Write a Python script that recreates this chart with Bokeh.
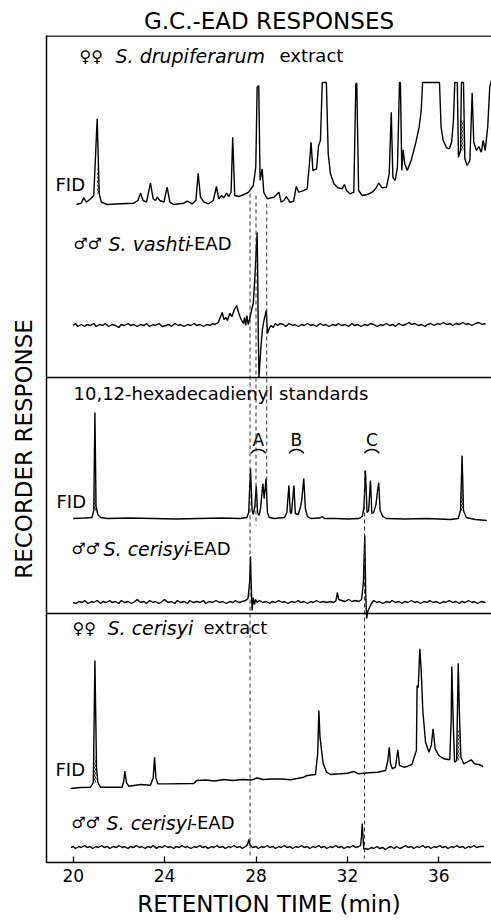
import numpy as np
from bokeh.plotting import figure
from bokeh.models import Range1d, Span, FixedTicker, Title
from bokeh.core.properties import value
from bokeh.embed import file_html
from bokeh.resources import INLINE

# ---------------- data (retention time in min, response in arbitrary units) -------------
x_ticks = [20, 24, 28, 32, 36]

# FID of female S. drupiferarum extract
fid1 = [(20.14, 0), (20.35, 1.3), (20.46, 6.7), (20.58, 2.3), (20.76, 5.7), (20.9, 9), (21.05, 85.7),
        (21.14, 10.7), (21.23, 2.3), (21.49, 0), (22.07, 0.7), (22.65, 1.3), (22.83, 4), (22.95, 11.3),
        (23.06, 4), (23.21, 2.3), (23.38, 21.3), (23.5, 5.7), (23.6, 4), (23.68, 7.3), (23.79, 4),
        (23.97, 2.3), (24.11, 17.3), (24.23, 2.3), (24.4, 0), (24.84, 1.3), (24.99, 3.3), (25.21, 0.7),
        (25.37, 4), (25.47, 31.3), (25.57, 7.3), (25.72, 2.3), (25.93, 0.7), (26.13, 4), (26.27, 18),
        (26.37, 5.7), (26.49, 9), (26.59, 6.7), (26.71, 11.3), (26.81, 8), (26.91, 12.3), (26.98, 67.3),
        (27.07, 9), (27.25, 8), (27.47, 10), (27.68, 12.3), (27.88, 19), (27.99, 37.3), (28.05, 117.3),
        (28.12, 119), (28.18, 24), (28.27, 35.7), (28.34, 12.3), (28.49, 5.7), (28.78, 7.3), (29.0, 12.3),
        (29.1, 2.3), (29.22, 4), (29.33, 8), (29.48, 2.3), (29.65, 3.3), (29.76, 18), (29.87, 12.3),
        (30.02, 13.3), (30.24, 15.7), (30.35, 44), (30.41, 62.3), (30.49, 34), (30.65, 35.7), (30.74, 59),
        (30.82, 64), (30.9, 122), (31.08, 122), (31.16, 50.7), (31.26, 30.7), (31.41, 20.7), (31.58, 16.7),
        (31.77, 15.7), (31.87, 20), (31.96, 14), (32.11, 10.7), (32.28, 12.3), (32.37, 120.7),
        (32.41, 121.3), (32.49, 14), (32.65, 9), (32.87, 10), (33.09, 12.3), (33.23, 15.7), (33.37, 21.3),
        (33.52, 16.7), (33.71, 17.3), (33.83, 30.7), (33.92, 92.3), (33.99, 27.3), (34.09, 24),
        (34.19, 37.3), (34.28, 122), (34.32, 122), (34.38, 34), (34.44, 54.7), (34.51, 40.7), (34.62, 34),
        (34.79, 44), (34.98, 60.7), (35.14, 77.3), (35.23, 94), (35.29, 122), (36.03, 122), (36.1, 77.3),
        (36.19, 64), (36.34, 56.7), (36.46, 55.7), (36.56, 62.3), (36.64, 84), (36.7, 122), (36.81, 122),
        (36.86, 47.3), (36.95, 54), (36.99, 122), (37.08, 122), (37.14, 45.7), (37.24, 39), (37.36, 44),
        (37.46, 111.7), (37.53, 62.3), (37.65, 54), (37.75, 58), (37.86, 52.3), (37.94, 64), (38.03, 54),
        (38.14, 77.3), (38.23, 117.3), (38.3, 124)]

# EAD of male S. vashti antenna
ead1 = [(20.0, 0), (20.1, 2), (20.2, -1), (20.35, 1), (20.5, -1), (20.6, 1), (20.75, 0), (20.9, 2),
        (21.0, -1), (21.15, 1), (21.3, 0), (21.4, 2), (21.55, -1), (21.7, 1), (21.85, 0), (22.0, -2),
        (22.1, 1), (22.25, 0), (22.4, 2), (22.5, 0), (22.65, 1), (22.8, -1), (22.95, 1), (23.1, 0),
        (23.2, 2), (23.35, -1), (23.5, 1), (23.6, 0), (23.75, 2), (23.9, -1), (24.05, 0), (24.2, 1),
        (24.3, -1), (24.45, 2), (24.6, 0), (24.7, 1), (24.85, -1), (25.0, 1), (25.15, 0), (25.3, 2),
        (25.4, 0), (25.55, 1), (25.7, -1), (25.85, 1), (26.0, 0), (26.1, 2), (26.2, 1), (26.35, 3),
        (26.45, 9), (26.52, 13), (26.6, 6), (26.68, 8), (26.75, 5), (26.85, 12), (26.95, 9), (27.05, 16),
        (27.15, 20), (27.25, 12), (27.35, 6), (27.45, 2), (27.5, 8), (27.55, 0), (27.6, 10), (27.66, 1),
        (27.72, 6), (27.8, 15), (27.88, 22), (27.95, 48), (28.02, 80), (28.05, 93), (28.08, 40),
        (28.1, -10), (28.13, -52), (28.17, -38), (28.22, -20), (28.28, -4), (28.35, 5), (28.45, 15),
        (28.5, -8), (28.58, -3), (28.65, 0), (28.75, -2), (28.85, 2), (28.95, 0), (29.05, 2), (29.2, 1),
        (29.3, -1), (29.45, 2), (29.6, 0), (29.7, 1), (29.85, -1), (30.0, 1), (30.1, 0), (30.25, 2),
        (30.4, 0), (30.5, 1), (30.65, -1), (30.8, 2), (30.95, 0), (31.05, 1), (31.2, -1), (31.35, 1),
        (31.5, 0), (31.6, 2), (31.75, 0), (31.9, 1), (32.05, -1), (32.2, 2), (32.3, 0), (32.45, 1),
        (32.6, -1), (32.75, 1), (32.9, 0), (33.0, 2), (33.15, 1), (33.3, -1), (33.45, 1), (33.55, 0),
        (33.7, 2), (33.85, 0), (34.0, 1), (34.1, -1), (34.25, 2), (34.4, 0), (34.55, 1), (34.7, 3),
        (34.8, 1), (34.95, 2), (35.1, 0), (35.25, 1), (35.4, -1), (35.5, 1), (35.65, 2), (35.8, 0),
        (35.95, 2), (36.05, 1), (36.2, 3), (36.35, 1), (36.5, 2), (36.6, 0), (36.75, 2), (36.9, 1),
        (37.05, 3), (37.2, 1), (37.3, 2), (37.45, 0), (37.6, 2), (37.75, 3), (37.9, 1), (38.05, 2)]

# FID of 10,12-hexadecadienyl standards
fid2 = [(20.0, 0), (20.5, 0.5), (20.82, 1), (20.9, 8), (20.95, 106), (21.0, 12), (21.08, 4), (21.2, 1),
        (21.5, 0), (22.5, 0.5), (23.5, 0), (24.5, -0.5), (25.5, 0), (26.5, 0.5), (27.3, 0), (27.6, 1),
        (27.68, 6), (27.76, 50), (27.83, 8), (27.88, 4), (27.95, 12), (28.01, 33), (28.07, 6), (28.13, 3),
        (28.2, 10), (28.3, 35), (28.36, 20), (28.44, 40), (28.5, 6), (28.58, 1), (28.8, 0), (29.25, 1),
        (29.35, 6), (29.44, 33), (29.5, 6), (29.55, 5), (29.66, 33), (29.72, 5), (29.85, 4), (29.95, 12),
        (30.0, 18), (30.09, 40), (30.16, 10), (30.25, 2), (30.4, 0), (30.8, 0.5), (30.9, 2), (31.0, 0),
        (31.5, 0), (32.0, -0.5), (32.5, 0), (32.65, 2), (32.72, 10), (32.79, 48), (32.86, 6), (32.93, 8),
        (33.01, 38), (33.07, 5), (33.15, 6), (33.25, 14), (33.32, 28), (33.37, 36), (33.43, 8), (33.55, 2),
        (33.7, 0), (34.5, -0.5), (35.5, 0), (36.5, -1), (36.85, 0), (36.95, 8), (37.02, 63), (37.08, 8),
        (37.2, 1), (37.6, -1), (38.1, -2)]

# EAD of male S. cerisyi antenna to the standards
ead2 = [(20.0, 0), (20.12, -1), (20.25, 1), (20.4, 0), (20.5, 2), (20.65, -1), (20.8, 1), (20.9, 0),
        (21.05, 2), (21.2, -1), (21.3, 1), (21.45, 0), (21.6, 2), (21.7, 0), (21.85, 1), (22.0, -1),
        (22.1, 2), (22.25, 0), (22.4, 1), (22.55, -1), (22.7, 1), (22.8, 3), (22.95, 0), (23.1, 1),
        (23.2, -1), (23.35, 2), (23.5, 0), (23.6, 1), (23.75, -1), (23.9, 1), (24.0, 3), (24.15, 0),
        (24.3, 1), (24.45, -1), (24.55, 2), (24.7, 0), (24.85, 1), (25.0, -1), (25.1, 2), (25.25, 0),
        (25.4, 1), (25.55, 0), (25.7, 2), (25.8, -1), (25.95, 1), (26.1, 0), (26.25, 2), (26.4, 0),
        (26.55, 1), (26.7, -1), (26.85, 1), (27.0, 0), (27.1, 2), (27.25, 0), (27.4, 1), (27.55, 2),
        (27.65, 4), (27.72, 20), (27.76, 46), (27.8, 10), (27.83, -8), (27.88, 5), (27.93, -2), (27.98, 3),
        (28.05, 0), (28.15, 2), (28.3, 0), (28.45, 1), (28.6, -1), (28.7, 1), (28.85, 0), (29.0, 2),
        (29.15, 0), (29.25, 1), (29.4, -1), (29.55, 1), (29.7, 0), (29.85, 2), (29.95, 0), (30.1, 1),
        (30.25, -1), (30.4, 1), (30.5, 0), (30.65, 2), (30.8, 0), (30.95, 1), (31.1, 0), (31.25, 1),
        (31.4, 0), (31.5, 2), (31.56, 10), (31.62, 3), (31.75, 2), (31.9, 1), (32.05, 3), (32.2, 1),
        (32.35, 2), (32.5, 1), (32.62, 3), (32.7, 20), (32.76, 67), (32.8, 10), (32.84, -16), (32.9, -8),
        (32.97, -5), (33.05, -1), (33.15, 2), (33.3, 0), (33.4, 1), (33.55, -1), (33.7, 1), (33.85, 0),
        (33.95, 2), (34.1, 0), (34.25, 1), (34.4, -1), (34.5, 1), (34.65, 0), (34.8, 2), (34.95, 0),
        (35.05, 1), (35.2, -1), (35.35, 1), (35.5, 0), (35.6, 2), (35.75, 0), (35.9, 1), (36.05, -1),
        (36.2, 1), (36.3, 0), (36.45, 2), (36.6, 0), (36.75, 1), (36.9, -1), (37.0, 1), (37.15, 0),
        (37.3, 2), (37.45, 0), (37.55, 1), (37.7, -1), (37.85, 1), (38.05, 0)]

# FID of female S. cerisyi extract
fid3 = [(19.88, 0), (20.32, 1), (20.76, 1.3), (20.88, 6), (20.95, 128), (21.02, 21), (21.08, 6),
        (21.19, 1.3), (22.14, 1.3), (22.21, 7.3), (22.26, 17.3), (22.33, 6), (22.43, 2.3), (22.95, 4),
        (23.38, 3.3), (23.5, 10.6), (23.56, 31.3), (23.62, 10.6), (23.7, 4.6), (24.11, 4.6), (25.28, 5),
        (25.4, 8), (25.8, 8.5), (26.2, 7.5), (26.6, 9), (27.0, 8), (27.4, 9), (27.8, 8.5), (28.05, 10.5),
        (28.3, 9), (28.7, 9.5), (29.1, 9.5), (29.51, 8.7), (30.09, 11.3), (30.24, 13), (30.6, 14),
        (30.7, 34.7), (30.75, 78), (30.8, 51.3), (30.94, 24.7), (31.09, 16.3), (31.26, 14), (31.7, 14.7),
        (31.99, 15.3), (32.28, 17), (32.5, 14.7), (32.94, 15.7), (33.32, 16.3), (33.67, 18), (33.77, 28),
        (33.83, 41.3), (33.89, 24.7), (33.97, 19.7), (34.1, 21.3), (34.21, 38.7), (34.28, 23), (34.47, 21.3),
        (34.64, 22.3), (34.82, 24), (35.02, 38), (35.05, 103), (35.1, 101), (35.17, 139.7), (35.23, 118),
        (35.3, 78), (35.42, 46.3), (35.57, 36.3), (35.67, 43), (35.75, 59.7), (35.84, 39.7), (36.0, 33),
        (36.22, 29.7), (36.48, 28.7), (36.54, 68), (36.57, 122), (36.63, 68), (36.69, 26.3), (36.78, 28),
        (36.85, 125.3), (36.91, 68), (36.97, 31.3), (37.09, 24.7), (37.24, 26.3), (37.42, 28.7),
        (37.56, 24.7), (37.75, 24), (37.94, 22)]

# EAD of male S. cerisyi antenna to the female S. cerisyi extract
ead3 = [(19.9, 0), (20.0, 1), (20.1, -1), (20.25, 1), (20.35, 0), (20.5, 2), (20.6, 0), (20.75, 1),
        (20.85, -1), (21.0, 1), (21.1, 0), (21.25, 2), (21.35, 0), (21.5, 1), (21.6, -1), (21.75, 1),
        (21.9, 0), (22.0, 2), (22.15, 0), (22.25, 1), (22.4, -1), (22.5, 1), (22.65, 0), (22.75, 2),
        (22.9, 0), (23.0, 1), (23.15, -1), (23.25, 1), (23.4, 0), (23.5, 2), (23.65, -1), (23.75, 1),
        (23.9, 0), (24.0, 2), (24.15, 0), (24.25, 1), (24.4, -1), (24.5, 1), (24.65, 0), (24.75, 2),
        (24.9, 0), (25.0, 1), (25.15, -1), (25.3, 1), (25.4, 0), (25.55, 2), (25.65, 0), (25.8, 1),
        (25.9, -1), (26.05, 1), (26.15, 0), (26.3, 2), (26.4, 0), (26.55, 1), (26.65, -1), (26.8, 1),
        (26.9, 0), (27.05, 2), (27.15, 0), (27.3, 1), (27.4, -1), (27.55, 1), (27.63, 3), (27.69, 8),
        (27.75, 2), (27.85, 0), (28.0, 1), (28.1, -1), (28.25, 1), (28.35, 0), (28.5, 2), (28.6, 0),
        (28.75, 1), (28.85, -1), (29.0, 1), (29.1, 0), (29.25, 2), (29.35, 0), (29.5, 1), (29.6, -1),
        (29.75, 1), (29.85, 0), (30.0, 2), (30.1, 0), (30.25, 1), (30.35, -1), (30.5, 1), (30.6, 0),
        (30.75, 2), (30.85, 0), (31.0, 1), (31.1, -1), (31.25, 1), (31.35, 0), (31.5, 2), (31.6, 0),
        (31.75, 1), (31.85, -1), (32.0, 1), (32.1, 0), (32.25, 2), (32.35, 0), (32.5, 1), (32.58, 2),
        (32.62, 12), (32.65, 24), (32.69, 8), (32.72, -2), (32.8, -1), (32.9, -2), (33.05, 0), (33.15, -1),
        (33.3, 1), (33.4, -1), (33.55, 0), (33.65, -2), (33.8, 0), (33.9, 1), (34.05, -1), (34.15, 1),
        (34.3, -1), (34.4, 0), (34.55, 2), (34.65, 0), (34.8, 1), (34.9, -1), (35.05, 1), (35.15, 0),
        (35.3, 2), (35.4, 0), (35.55, 1), (35.65, -1), (35.8, 1), (35.9, 0), (36.05, 2), (36.15, 0),
        (36.3, 1), (36.4, -1), (36.55, 1), (36.65, 0), (36.8, 2), (36.9, 0), (37.05, 1), (37.15, -1),
        (37.3, 1), (37.4, 0), (37.55, 2), (37.65, 0), (37.8, 1), (37.97, 1)]

# internal-standard (hatched) peaks
hatched_fid1 = [21.05, 36.99]
hatched_fid2 = [20.95, 37.02]
hatched_fid3 = [20.95, 36.85]

# EAD-active retention times (dashed guide lines)
ead_active_times = [27.74, 28.0, 28.47, 32.75]

# isomer groups of the standards
group_labels = ["A", "B", "C"]
group_centers = [28.1, 29.77, 33.07]

# ---------------- layout --------------------------------------------------------------
W, H = 491, 923
FL, FT, FB = 46, 35, 862          # frame left / top / bottom in page pixels
PXMIN = 22.85                      # pixels per minute


def X(px):
    return 20 + (px - 72.7) / PXMIN


def Y(py):
    return FB - py


T0 = X(FL)
T1 = X(W)

FONT = "DejaVu Sans"

p = figure(width=W, height=H, x_range=Range1d(T0, T1), y_range=Range1d(0, FB - FT),
           min_border_left=FL, min_border_right=0, min_border_top=FT, min_border_bottom=H - FB,
           toolbar_location=None, output_backend="svg", title=None)
p.grid.visible = False
p.outline_line_color = None
p.background_fill_color = "white"
p.border_fill_color = "white"

ttl = Title(text="G.C.-EAD RESPONSES", align="center", text_font=FONT, text_font_size="23px",
            text_font_style="normal", text_color="black", offset=7, standoff=3)
p.add_layout(ttl, "above")

ax = p.xaxis[0]
ax.ticker = FixedTicker(ticks=x_ticks)
ax.axis_line_width = 1.5
ax.axis_line_color = "black"
ax.major_tick_in = 6
ax.major_tick_out = 0
ax.major_tick_line_width = 1.3
ax.minor_tick_line_color = None
ax.major_label_standoff = 6
ax.major_label_text_font = FONT
ax.major_label_text_font_size = "17px"
ax.major_label_text_color = "black"
ax.axis_label = "RETENTION TIME (min)"
ax.axis_label_text_font = FONT
ax.axis_label_text_font_size = "23px"
ax.axis_label_text_font_style = "normal"
ax.axis_label_text_color = "black"
ax.axis_label_standoff = 6

ay = p.yaxis[0]
ay.ticker = FixedTicker(ticks=[])
ay.axis_line_width = 1.5
ay.axis_line_color = "black"
ay.major_tick_line_color = None
ay.minor_tick_line_color = None
ay.major_label_standoff = 0
ay.axis_label = "RECORDER RESPONSE"
ay.axis_label_text_font = FONT
ay.axis_label_text_font_size = "23px"
ay.axis_label_text_font_style = "normal"
ay.axis_label_text_color = "black"
ay.axis_label_standoff = 10

# top frame line and panel separators
p.add_layout(Span(location=FB - FT - 0.5, dimension="width", line_color="black", line_width=1.5))
for sep_py in (377, 613):
    p.add_layout(Span(location=Y(sep_py), dimension="width", line_color="black", line_width=1.3))

# traces: (data, baseline in page pixels, hatched peaks)
traces = [(fid1, 204, hatched_fid1), (ead1, 325, []), (fid2, 518, hatched_fid2),
          (ead2, 602, []), (fid3, 788, hatched_fid3), (ead3, 847, [])]
for data, base_py, hatched in traces:
    t = np.array([d[0] for d in data])
    v = np.array([d[1] for d in data])
    off = Y(base_py)
    for tc in hatched:
        m = np.abs(t - tc) <= 0.1
        lo = v[m].min()
        p.varea(x=t[m], y1=np.full(m.sum(), off + lo), y2=off + np.minimum(v[m], lo + 30),
                fill_color=None, fill_alpha=0, hatch_pattern="/", hatch_scale=4,
                hatch_color="black", hatch_weight=0.9)
    p.line(t, v + off, line_color="black", line_width=1.4)

# dashed guide lines
dash_top_py = [193, 195, 203, 470]
dash_bot_py = [858, 525, 488, 858]
p.segment(x0=ead_active_times, y0=[Y(v) for v in dash_top_py],
          x1=ead_active_times, y1=[Y(v) for v in dash_bot_py],
          line_color="#333333", line_width=1, line_dash="4 3")

# isomer group brackets and letters
p.arc(x=group_centers, y=[Y(458)] * 3, radius=9, radius_units="screen",
      start_angle=0.6, end_angle=2.54, line_color="black", line_width=1.3)
p.text(x=group_centers, y=[Y(439)] * 3, text=group_labels, text_font=value(FONT),
       text_font_size=value("17px"), text_align=value("center"), text_baseline=value("middle"),
       text_color="black")


def txt(px, py, s, style="normal", size="18px", align="left"):
    p.text(x=[X(px)], y=[Y(py)], text=[s], text_font=value(FONT), text_font_size=value(size),
           text_font_style=value(style), text_align=value(align), text_baseline=value("middle"),
           text_color="black")


SYM = "16px"
ITAL = "19px"
# panel 1
txt(79, 56, "\u2640\u2640", size=SYM)
txt(115, 55, "S. drupiferarum", "italic", ITAL)
txt(279, 55, "extract")
txt(55, 184, "FID")
txt(73, 243, "\u2642\u2642", size=SYM)
txt(108, 243, "S. vashti", "italic", ITAL)
txt(187, 243, "-EAD")
# panel 2
txt(73, 393, "10,12-hexadecadienyl standards")
txt(56, 501, "FID")
txt(71, 548, "\u2642\u2642", size=SYM)
txt(103, 548, "S. cerisyi", "italic", ITAL)
txt(186, 548, "-EAD")
# panel 3
txt(72, 628, "\u2640\u2640", size=SYM)
txt(107, 627, "S. cerisyi", "italic", ITAL)
txt(203, 627, "extract")
txt(55, 769, "FID")
txt(71, 822, "\u2642\u2642", size=SYM)
txt(106, 822, "S. cerisyi", "italic", ITAL)
txt(190, 822, "-EAD")

open("out.html", "w").write(file_html(p, INLINE))
